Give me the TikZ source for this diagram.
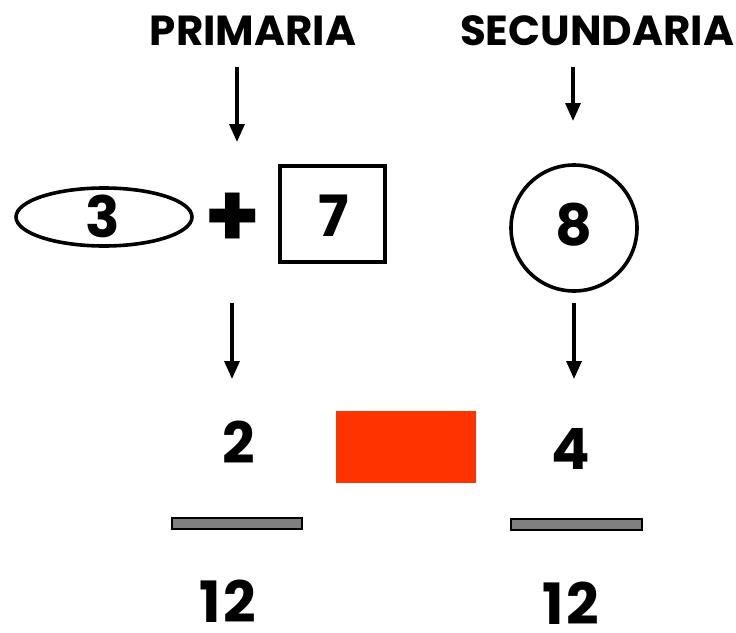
\documentclass[tikz,border=0pt]{standalone}
\usepackage{fontspec}
\setmainfont{Poppins}
\usetikzlibrary{arrows.meta,shapes.geometric}
\tikzset{
  lbl/.style={font=\bfseries\fontsize{42}{42}\selectfont, inner sep=0pt, anchor=base},
  digit/.style={font=\bfseries\fontsize{57}{57}\selectfont, inner sep=0pt, anchor=base},
  arr/.style={line width=3.2pt, -{Triangle[width=15pt,length=18pt]}},
  shapeline/.style={line width=3.6pt, draw=black},
  bar/.style={fill=gray50, draw=black, line width=2.2pt},
}
\definecolor{gray50}{HTML}{808080}
\definecolor{redbox}{HTML}{FF3300}
\begin{document}
\begin{tikzpicture}[x=1pt,y=-1pt]
\useasboundingbox (0,0) rectangle (736,632);
% titles
\node[lbl] (prim) at (253,45) {PRIMARIA};
\node[lbl] (sec) at (597,45) {SECUNDARIA};
% arrows top
\coordinate (a1s) at (237,67); \coordinate (a1e) at (237,142);
\coordinate (a2s) at (573,67); \coordinate (a2e) at (573,121);
\draw[arr] (a1s) -- (a1e);
\draw[arr] (a2s) -- (a2e);
% shapes
\draw[shapeline] (104,217) ellipse [x radius=88, y radius=29];
\node[digit] (three) at (103,237) {3};
\node[font=\bfseries\fontsize{90}{90}\selectfont, inner sep=0pt] (plus) at (233,220) {+};
\draw[shapeline] (280,166) rectangle (385,262);
\node[digit] (seven) at (334,236) {7};
\draw[shapeline] (574,228) circle [radius=63];
\node[digit] (eight) at (574,245) {8};
% arrows middle
\coordinate (a3s) at (232,303); \coordinate (a3e) at (232,379);
\coordinate (a4s) at (574,303); \coordinate (a4e) at (574,379);
\draw[arr] (a3s) -- (a3e);
\draw[arr] (a4s) -- (a4e);
% lower row
\node[digit] (two) at (239,463) {2};
\fill[redbox] (336,411) rectangle (476,483);
\node[digit] (four) at (571,469) {4};
\draw[bar] (172,518) rectangle (302,529);
\draw[bar] (511,519) rectangle (642,530);
\node[digit] (twelveL) at (228,622) {1\kern3pt 2};
\node[digit] (twelveR) at (571,624) {1\kern3pt 2};
\end{tikzpicture}
\end{document}
